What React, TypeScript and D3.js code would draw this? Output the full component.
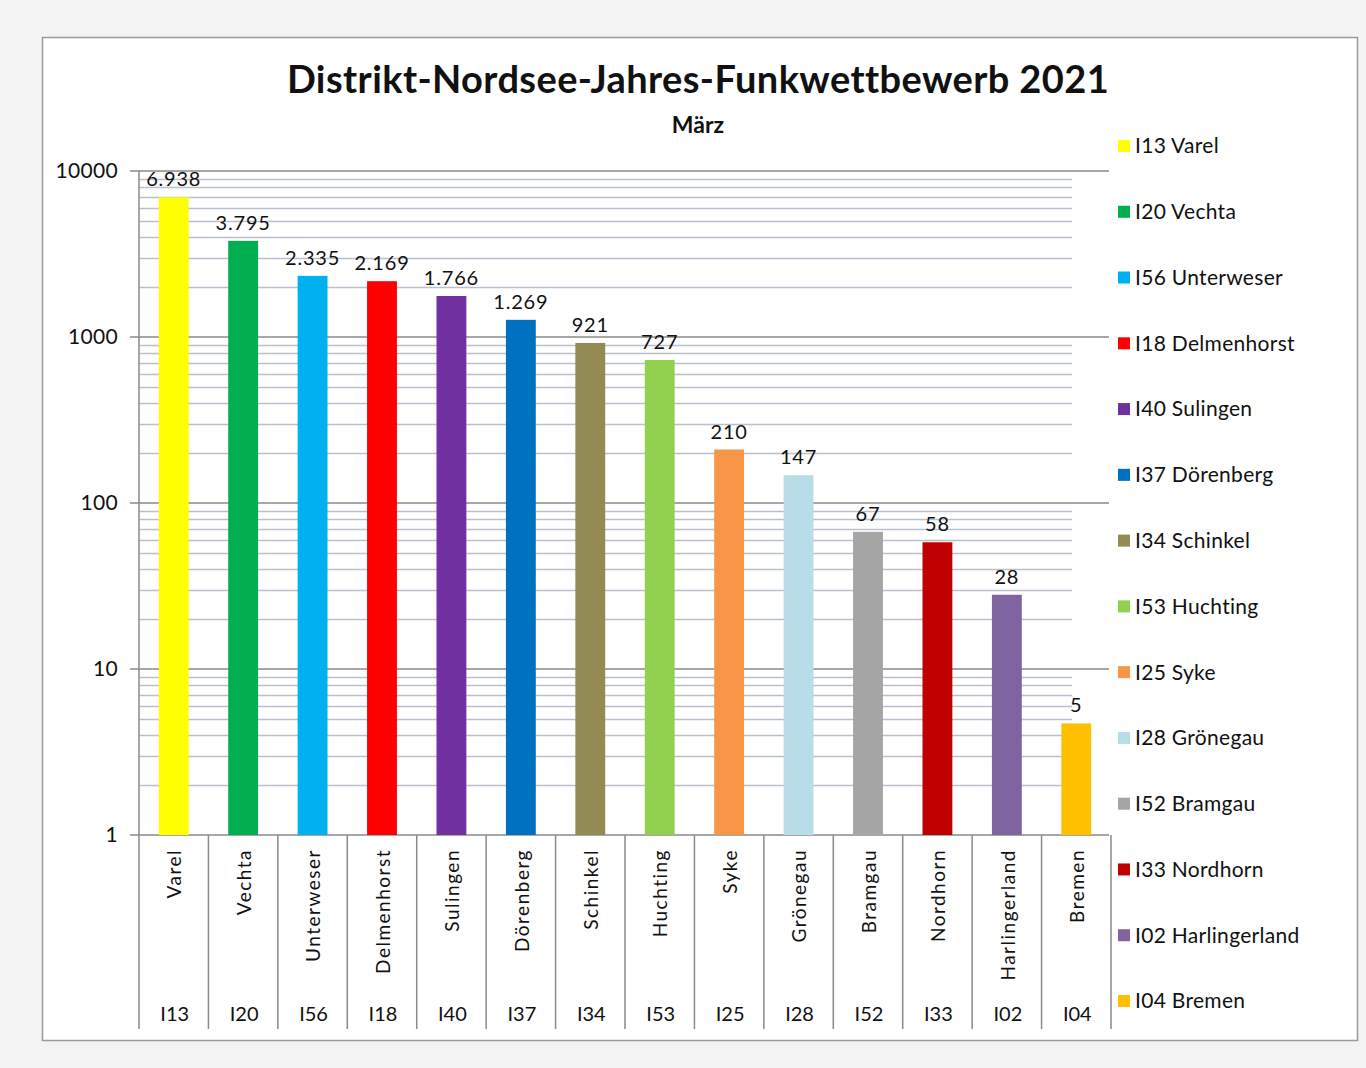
import React from "react";
import * as d3 from "d3";

const codes = ["I13", "I20", "I56", "I18", "I40", "I37", "I34", "I53", "I25", "I28", "I52", "I33", "I02", "I04"];
const names = ["Varel", "Vechta", "Unterweser", "Delmenhorst", "Sulingen", "Dörenberg", "Schinkel", "Huchting", "Syke", "Grönegau", "Bramgau", "Nordhorn", "Harlingerland", "Bremen"];
const values = [6938, 3795, 2335, 2169, 1766, 1269, 921, 727, 210, 147, 67, 58, 28, 4.7];
const colors = ["#FFFF00", "#00B050", "#00B0F0", "#FF0000", "#7030A0", "#0070C0", "#948A54", "#92D050", "#F79646", "#B7DEE8", "#A5A5A5", "#C00000", "#8064A2", "#FFC000"];
const yTicks = [1, 10, 100, 1000, 10000];
const title = "Distrikt-Nordsee-Jahres-Funkwettbewerb 2021";
const subtitle = "März";

const W = 1366;
const H = 1068;
const FONT = "Lato, 'Open Sans', sans-serif";

export default function App() {
  const x = d3.scaleBand<string>().domain(codes).range([139, 1111]).paddingInner(0.57).paddingOuter(0.285);
  const xCat = d3.scaleBand<string>().domain(codes).range([139, 1111]);
  const y = d3.scaleLog().domain([1, 10000]).range([835, 171]);
  const de = d3.formatLocale({ decimal: ",", thousands: ".", grouping: [3], currency: ["", " €"] });
  const fmt = de.format(",.0f");

  const minor: number[] = [];
  for (let e = 0; e < 4; e++) for (let m = 2; m <= 9; m++) minor.push(m * Math.pow(10, e));

  const legendY = d3.scalePoint<string>().domain(codes).range([146, 1001]);

  return (
    <svg width={W} height={H} style={{ position: "absolute", left: 0, top: 0 }} fontFamily={FONT}>
      <rect x={0} y={0} width={W} height={H} fill="#f3f3f3" />
      <rect x={42.5} y={37.5} width={1315} height={1003} fill="#ffffff" stroke="#9a9a9a" strokeWidth={1.5} />
      <text x={698} y={93} textAnchor="middle" fontSize={38} fontWeight="bold" letterSpacing={0.4} fill="#111">{title}</text>
      <text x={698} y={133} textAnchor="middle" fontSize={23} fontWeight="bold" fill="#111">{subtitle}</text>

      {minor.map((v) => (
        <line key={"m" + v} x1={139} x2={1072} y1={Math.round(y(v)) + 0.5} y2={Math.round(y(v)) + 0.5} stroke="#b9c0cb" strokeWidth={1.5} />
      ))}
      {yTicks.map((v) => (
        <g key={"t" + v}>
          <line x1={130} x2={1109} y1={y(v)} y2={y(v)} stroke="#8a8a8a" strokeWidth={1.5} />
          <text x={118} y={y(v)} dy="0.35em" textAnchor="end" fontSize={21} letterSpacing={0.3} fill="#111">{v}</text>
        </g>
      ))}

      {values.map((v, i) => (
        <g key={"b" + i}>
          <rect x={x(codes[i])} y={y(v)} width={x.bandwidth()} height={835 - y(v)} fill={colors[i]} />
          <text x={(x(codes[i]) as number) + x.bandwidth() / 2} y={y(v) - 11} textAnchor="middle" fontSize={20} letterSpacing={0.8} fill="#111">{fmt(v)}</text>
        </g>
      ))}

      <line x1={139} x2={139} y1={171} y2={1029} stroke="#8a8a8a" strokeWidth={1.5} />
      {codes.map((c) => (
        <line key={"d" + c} x1={(xCat(c) as number) + xCat.bandwidth()} x2={(xCat(c) as number) + xCat.bandwidth()} y1={835} y2={1029} stroke="#8a8a8a" strokeWidth={1.5} />
      ))}
      {codes.map((c, i) => {
        const cx = (xCat(c) as number) + xCat.bandwidth() / 2 + 1;
        return (
          <g key={"l" + c}>
            <text transform={`translate(${cx},849) rotate(-90)`} dy="0.35em" textAnchor="end" fontSize={19} letterSpacing={1.5} fill="#111">{names[i]}</text>
            <text x={cx} y={1014} dy="0.35em" textAnchor="middle" fontSize={20} fill="#111">{c}</text>
          </g>
        );
      })}

      {codes.map((c, i) => (
        <g key={"lg" + c}>
          <rect x={1118} y={(legendY(c) as number) - 6} width={12} height={12} fill={colors[i]} />
          <text x={1135} y={legendY(c)} dy="0.35em" fontSize={21} letterSpacing={0.3} fill="#111">{c + " " + names[i]}</text>
        </g>
      ))}
    </svg>
  );
}
